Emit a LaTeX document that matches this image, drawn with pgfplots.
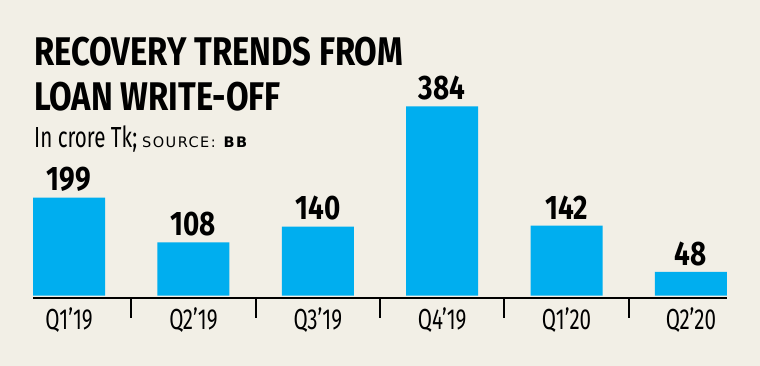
\documentclass[border=0pt]{standalone}
\usepackage{pgfplots}
\pgfplotsset{compat=1.18}
\usepackage{fontspec}
\setmainfont{Fira Sans}[FakeStretch=0.71]
\newfontfamily\titlefont{Fira Sans}[FakeStretch=0.82]
\newfontfamily\verd{DejaVu Sans}[LetterSpace=10]
\definecolor{bg}{RGB}{242,239,230}
\definecolor{barc}{RGB}{0,174,239}
\begin{document}
\begin{tikzpicture}[x=1pt,y=1pt]
\fill[bg] (0,0) rectangle (760,366);
\node[anchor=base west, inner sep=0] at (34,300) {\titlefont\fontsize{40}{40}\selectfont\bfseries RECOVERY TRENDS FROM};
\node[anchor=base west, inner sep=0] at (34,255) {\titlefont\fontsize{40}{40}\selectfont\bfseries LOAN WRITE-OFF};
\node[anchor=base west, inner sep=0] at (34,218) {\fontsize{29}{29}\selectfont In crore Tk;\hspace{5pt}{\verd\fontsize{14.5}{14.5}\selectfont SOURCE:\hspace{8pt}\bfseries BB}};
\begin{axis}[
  at={(33pt,68pt)}, anchor=south west,
  scale only axis, width=694pt, height=197pt,
  xmin=-0.29, xmax=5.29, ymin=-5, ymax=395,
  axis x line=bottom, axis y line=none,
  x axis line style={line width=2.5pt, -},
  xtick={0,1,2,3,4,5},
  xticklabels={Q1’19,Q2’19,Q3’19,Q4’19,Q1’20,Q2’20},
  major tick length=0pt,
  minor xtick={0.5,1.5,2.5,3.5,4.5},
  minor tick length=20pt,
  tick align=center,
  minor tick style={line width=1.8pt, black},
  xticklabel style={anchor=base, yshift=-32pt, font=\fontsize{29}{29}\selectfont},
  ybar, bar width=72pt,
  clip=false,
  /pgf/number format/assume math mode=true,
  nodes near coords,
  every node near coord/.append style={font=\titlefont\fontsize{34}{34}\selectfont\bfseries, inner sep=0pt, yshift=6pt, black},
]
\addplot[fill=barc, draw=none] coordinates {(0,199) (1,108) (2,140) (3,384) (4,142) (5,48)};
\end{axis}
\end{tikzpicture}
\end{document}
